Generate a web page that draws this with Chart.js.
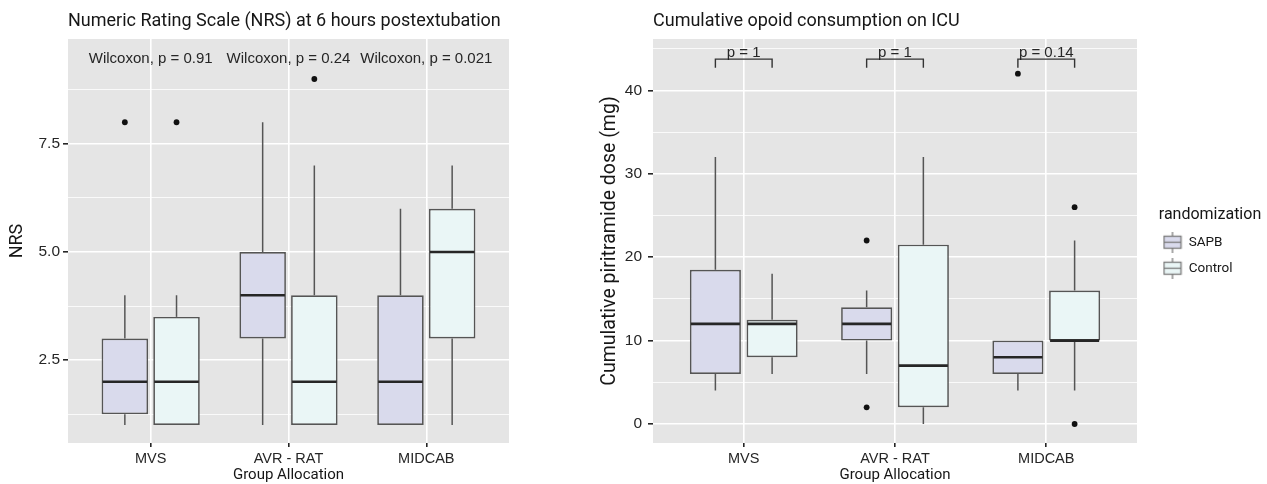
<!DOCTYPE html>
<html>
<head>
<meta charset="utf-8">
<script src="https://cdn.jsdelivr.net/npm/chart.js@4.4.1/dist/chart.umd.min.js"></script>
<style>
  html, body { margin: 0; padding: 0; background: #fff; }
  body { width: 1267px; height: 484px; position: relative; overflow: hidden; }
  .panel { position: absolute; top: 0; height: 484px; }
  #left { left: 0; width: 520px; }
  #right { left: 560px; width: 707px; }
</style>
</head>
<body>
<div class="panel" id="left"><canvas id="nrsChart"></canvas></div>
<div class="panel" id="right"><canvas id="doseChart"></canvas></div>
<script>
const groups = ['MVS', 'AVR - RAT', 'MIDCAB'];
const groupX = [1, 2, 3];

// boxes: [lower whisker, q1, median, q3, upper whisker]
const nrsSapb = [[1, 1.25, 2, 3, 4], [1, 3, 4, 5, 8], [1, 1, 2, 4, 6]];
const nrsControl = [[1, 1, 2, 3.5, 4], [1, 1, 2, 4, 7], [1, 3, 5, 6, 7]];
const nrsSapbOutliers = [[8], [], []];
const nrsControlOutliers = [[8], [9], []];
const nrsPvalues = ['Wilcoxon, p = 0.91', 'Wilcoxon, p = 0.24', 'Wilcoxon, p = 0.021'];
const nrsMajorTicks = [2.5, 5, 7.5];
const nrsMinorTicks = [1.25, 3.75, 6.25, 8.75];

const doseSapb = [[4, 6, 12, 18.5, 32], [6, 10, 12, 14, 16], [4, 6, 8, 10, 10]];
const doseControl = [[6, 8, 12, 12.5, 18], [0, 2, 7, 21.5, 32], [4, 10, 10, 16, 22]];
const doseSapbOutliers = [[], [22, 2], [42]];
const doseControlOutliers = [[], [], [26, 0]];
const dosePvalues = ['p = 1', 'p = 1', 'p = 0.14'];
const doseMajorTicks = [0, 10, 20, 30, 40];
const doseMinorTicks = [5, 15, 25, 35, 45];

const sapbFill = '#d9daec';
const controlFill = '#eaf6f6';
const inkColor = '#161616';
const tickColor = '#262626';

// little boxplot glyph for the legend
function boxGlyph(fill) {
  const c = document.createElement('canvas');
  c.width = 20; c.height = 21;
  const g = c.getContext('2d');
  g.strokeStyle = '#7a7a7a';
  g.lineWidth = 1.3;
  g.beginPath();
  g.moveTo(10, 0); g.lineTo(10, 4);
  g.moveTo(10, 17); g.lineTo(10, 21);
  g.stroke();
  g.fillStyle = fill;
  g.fillRect(1.5, 4.5, 17, 12);
  g.strokeRect(1.5, 4.5, 17, 12);
  g.beginPath();
  g.moveTo(1.5, 10.5); g.lineTo(18.5, 10.5);
  g.stroke();
  return c;
}

function boxDataset(label, stats, outliers, fill) {
  return {
    label: label,
    stats: stats,
    outliers: outliers,
    legendIcon: boxGlyph(fill),
    data: stats.map((s, i) => ({ x: groupX[i], y: [s[1], s[3]] })),
    backgroundColor: fill,
    borderColor: '#555555',
    borderWidth: 1.7,
    borderSkipped: false,
    categoryPercentage: 0.75,
    barPercentage: 0.9
  };
}

function xAxis() {
  return {
    type: 'linear',
    min: 0.4,
    max: 3.6,
    offset: false,
    afterBuildTicks: ax => { ax.ticks = groupX.map(v => ({ value: v })); },
    afterFit: ax => { ax.height = 41; },
    border: { display: false },
    grid: { color: '#ffffff', lineWidth: 1.6, offset: false, tickColor: tickColor, tickLength: 4 },
    ticks: {
      callback: v => groups[groupX.indexOf(v)],
      padding: 3, maxRotation: 0, autoSkip: false,
      color: tickColor, font: { family: 'Liberation Sans', size: 14.5 }
    },
    title: {
      display: true, text: 'Group Allocation', padding: 0,
      color: inkColor, font: { family: 'Roboto', size: 15 }
    }
  };
}

function yAxis(min, max, major, minor, fmt, title, titleSize, titlePad, tickPad, width) {
  const all = major.concat(minor).sort((a, b) => a - b);
  const isMajor = v => major.includes(v);
  return {
    min: min,
    max: max,
    afterBuildTicks: ax => { ax.ticks = all.map(v => ({ value: v })); },
    afterFit: ax => { ax.width = width; },
    border: { display: false },
    grid: {
      color: '#ffffff',
      lineWidth: c => isMajor(c.tick.value) ? 1.6 : 0.8,
      tickColor: c => isMajor(c.tick.value) ? tickColor : 'rgba(0,0,0,0)',
      tickLength: 5
    },
    ticks: {
      callback: v => isMajor(v) ? fmt(v) : '',
      padding: tickPad, autoSkip: false,
      color: tickColor, font: { family: 'Liberation Sans', size: 15.5 }
    },
    title: {
      display: true, text: title, padding: { top: titlePad, bottom: 0 },
      color: inkColor, font: { family: 'Roboto', size: titleSize }
    }
  };
}

function chartTitle(text) {
  return {
    display: true, text: text, align: 'start', fullSize: false,
    padding: { top: 10.2, bottom: 7.2 },
    color: inkColor, font: { family: 'Roboto', size: 18, weight: 'normal' }
  };
}

// grey ggplot panel
const panelBg = {
  id: 'panelBg',
  beforeDraw(chart) {
    const { ctx, chartArea: a } = chart;
    ctx.save();
    ctx.fillStyle = '#e5e5e5';
    ctx.fillRect(a.left, a.top, a.right - a.left, a.bottom - a.top);
    ctx.restore();
  }
};

// whiskers, medians and outliers on top of the floating bars
const boxParts = {
  id: 'boxParts',
  afterDatasetsDraw(chart) {
    const { ctx } = chart;
    const y = chart.scales.y;
    chart.data.datasets.forEach((ds, d) => {
      chart.getDatasetMeta(d).data.forEach((bar, j) => {
        const [lo, q1, med, q3, hi] = ds.stats[j];
        const x = bar.x, half = bar.width / 2;
        ctx.save();
        ctx.strokeStyle = '#555555';
        ctx.lineWidth = 1.5;
        ctx.beginPath();
        ctx.moveTo(x, y.getPixelForValue(q3)); ctx.lineTo(x, y.getPixelForValue(hi));
        ctx.moveTo(x, y.getPixelForValue(q1)); ctx.lineTo(x, y.getPixelForValue(lo));
        ctx.stroke();
        ctx.strokeStyle = '#262626';
        ctx.lineWidth = 2.6;
        const ym = y.getPixelForValue(med);
        ctx.beginPath();
        ctx.moveTo(x - half + 1, ym); ctx.lineTo(x + half - 1, ym);
        ctx.stroke();
        ctx.fillStyle = '#111111';
        ds.outliers[j].forEach(v => {
          ctx.beginPath();
          ctx.arc(x, y.getPixelForValue(v), 2.9, 0, Math.PI * 2);
          ctx.fill();
        });
        ctx.restore();
      });
    });
  }
};

// p-value labels (optionally with brackets)
const pLabels = {
  id: 'pLabels',
  afterDatasetsDraw(chart, args, opts) {
    const { ctx } = chart;
    const x = chart.scales.x, y = chart.scales.y;
    const a = chart.getDatasetMeta(0).data, b = chart.getDatasetMeta(1).data;
    ctx.save();
    ctx.font = '15px "Liberation Sans", Arial, sans-serif';
    ctx.fillStyle = '#262626';
    ctx.textAlign = 'center';
    ctx.textBaseline = 'alphabetic';
    opts.labels.forEach((t, i) => {
      if (opts.bracket) {
        const yl = y.getPixelForValue(opts.bracket[0]);
        const yb = y.getPixelForValue(opts.bracket[1]);
        ctx.strokeStyle = '#333333';
        ctx.lineWidth = 1.4;
        ctx.beginPath();
        ctx.moveTo(a[i].x, yb); ctx.lineTo(a[i].x, yl);
        ctx.lineTo(b[i].x, yl); ctx.lineTo(b[i].x, yb);
        ctx.stroke();
      }
      ctx.fillText(t, x.getPixelForValue(groupX[i]), y.getPixelForValue(opts.value));
    });
    ctx.restore();
  }
};

// pin the legend box where the ggplot legend sits
const legendSpot = {
  id: 'legendSpot',
  beforeLayout(chart) {
    const lg = chart.legend;
    if (lg && !lg.widthPatched) {
      const fit = lg.fit;
      lg.fit = function () { fit.call(this); this.width = 130; };
      lg.widthPatched = true;
    }
  },
  afterLayout(chart) {
    const lg = chart.legend;
    lg.left = 590.5; lg.width = 119; lg.right = lg.left + lg.width;
    lg.top = 207; lg.height = 90; lg.bottom = lg.top + lg.height;
  }
};

new Chart(document.getElementById('nrsChart'), {
  type: 'bar',
  data: {
    datasets: [
      boxDataset('SAPB', nrsSapb, nrsSapbOutliers, sapbFill),
      boxDataset('Control', nrsControl, nrsControlOutliers, controlFill)
    ]
  },
  options: {
    responsive: true,
    maintainAspectRatio: false,
    animation: false,
    events: [],
    layout: { padding: { right: 11 } },
    scales: {
      x: xAxis(),
      y: yAxis(0.584, 9.925, nrsMajorTicks, nrsMinorTicks, v => v.toFixed(1), 'NRS', 18, 6.8, 3, 68)
    },
    plugins: {
      title: chartTitle('Numeric Rating Scale (NRS) at 6 hours postextubation'),
      legend: { display: false },
      tooltip: { enabled: false },
      pLabels: { labels: nrsPvalues, value: 9.37 }
    }
  },
  plugins: [panelBg, boxParts, pLabels]
});

new Chart(document.getElementById('doseChart'), {
  type: 'bar',
  data: {
    datasets: [
      boxDataset('SAPB', doseSapb, doseSapbOutliers, sapbFill),
      boxDataset('Control', doseControl, doseControlOutliers, controlFill)
    ]
  },
  options: {
    responsive: true,
    maintainAspectRatio: false,
    animation: false,
    events: [],
    scales: {
      x: xAxis(),
      y: yAxis(-2.28, 46.16, doseMajorTicks, doseMinorTicks, v => String(v), 'Cumulative piritramide dose (mg)', 19.5, 38.3, 6, 93)
    },
    plugins: {
      title: chartTitle('Cumulative opoid consumption on ICU'),
      tooltip: { enabled: false },
      legend: {
        position: 'right',
        align: 'start',
        title: {
          display: true, text: 'randomization', position: 'center', padding: 0,
          color: inkColor, font: { family: 'Roboto', size: 16, lineHeight: 1 }
        },
        labels: {
          usePointStyle: true,
          pointStyleWidth: 19,
          padding: 12.5,
          color: inkColor,
          font: { family: 'Roboto', size: 13.5 },
          generateLabels: chart => chart.data.datasets.map((ds, i) => ({
            text: ds.label, pointStyle: ds.legendIcon, datasetIndex: i, hidden: false, lineWidth: 0
          }))
        }
      },
      pLabels: { labels: dosePvalues, value: 43.75 + 2.5 / 8.34, bracket: [43.75, 42.7] }
    }
  },
  plugins: [panelBg, boxParts, pLabels, legendSpot]
});
</script>
</body>
</html>
